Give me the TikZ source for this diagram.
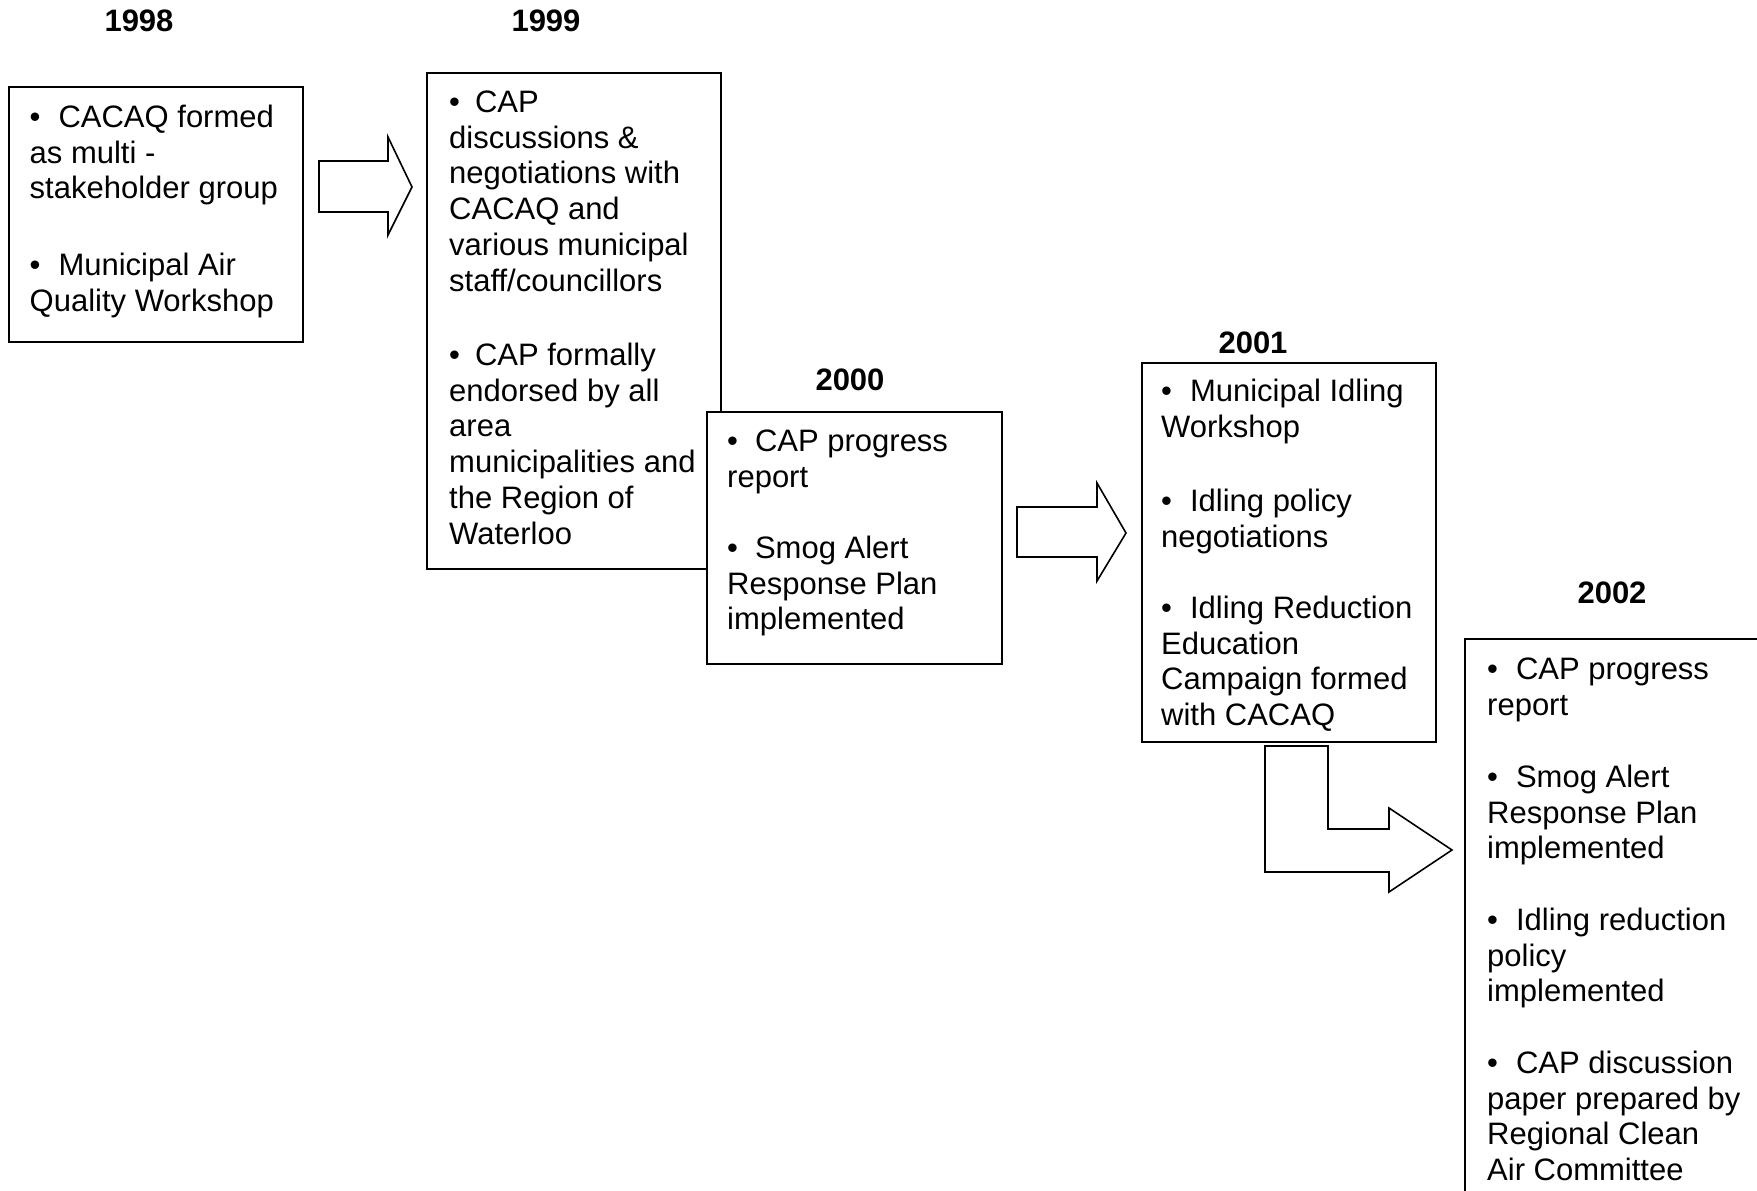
\documentclass[tikz,border=0pt]{standalone}
\usepackage{fontspec}
\setmainfont{Liberation Sans}
\newcommand{\bul}[1]{\rule{0pt}{25pt}\textbullet\hspace{#1}}
\begin{document}
\begin{tikzpicture}[x=1pt,y=-1pt,
  box/.style={draw=black, line width=1.8pt, fill=white},
  blockarrow/.style={draw=black, line width=1.6pt, fill=white, line join=miter},
  yr/.style={font=\fontsize{31pt}{36pt}\selectfont\bfseries, anchor=base, inner sep=0pt},
  txt/.style={font=\fontsize{31pt}{35.8pt}\selectfont, align=left, anchor=north west, inner sep=0pt}]
\useasboundingbox (0,0) rectangle (1757,1191);
\clip (0,0) rectangle (1757,1191);
\fill[white] (0,0) rectangle (1757,1191);

% year labels
\node[yr] (y98) at (139,31) {1998};
\node[yr] (y99) at (546,31) {1999};
\node[yr] (y00) at (850,390) {2000};
\node[yr] (y01) at (1253,353) {2001};
\node[yr] (y02) at (1612,603) {2002};

% boxes
\draw[box] (9,87) rectangle (303,342);
\draw[box] (427,73) rectangle (721,569);
\draw[box] (707,412) rectangle (1002,664);
\draw[box] (1142,363) rectangle (1436,742);
\draw[box] (1465,639) rectangle (1800,1250);

% block arrows
\draw[blockarrow] (319,161) -- (388,161) -- (388,137) -- (412,187) -- (388,235) -- (388,212) -- (319,212) -- cycle;
\draw[blockarrow] (1017,507) -- (1097,507) -- (1097,483) -- (1126,533) -- (1097,581) -- (1097,557) -- (1017,557) -- cycle;
\draw[blockarrow] (1265,746) -- (1328,746) -- (1328,829) -- (1389,829) -- (1389,808) -- (1452,850) -- (1389,892) -- (1389,872) -- (1265,872) -- cycle;

% texts 1998
\node[txt] (t98a) at (29.5,102) {\bul{18pt}CACAQ formed\\as multi -\\stakeholder group};
\node[txt] (t98b) at (29.5,250) {\bul{18pt}Municipal Air\\Quality Workshop};
% 1999
\node[txt] (t99a) at (449,87) {\bul{15pt}CAP\\discussions \&\\negotiations with\\CACAQ and\\various municipal\\staff/councillors};
\node[txt] (t99b) at (449,340) {\bul{15pt}CAP formally\\endorsed by all\\area\\municipalities and\\the Region of\\Waterloo};
% 2000
\node[txt] (t00a) at (727,426) {\bul{17pt}CAP progress\\report};
\node[txt] (t00b) at (727,533) {\bul{17pt}Smog Alert\\Response Plan\\implemented};
% 2001
\node[txt] (t01a) at (1161,376) {\bul{18pt}Municipal Idling\\Workshop};
\node[txt] (t01b) at (1161,486) {\bul{18pt}Idling policy\\negotiations};
\node[txt] (t01c) at (1161,593) {\bul{18pt}Idling Reduction\\Education\\Campaign formed\\with CACAQ};
% 2002
\node[txt] (t02a) at (1487,654) {\bul{18pt}CAP progress\\report};
\node[txt] (t02b) at (1487,762) {\bul{18pt}Smog Alert\\Response Plan\\implemented};
\node[txt] (t02c) at (1487,905) {\bul{18pt}Idling reduction\\policy\\implemented};
\node[txt] (t02d) at (1487,1048) {\bul{18pt}CAP discussion\\paper prepared by\\Regional Clean\\Air Committee};
\end{tikzpicture}
\end{document}
